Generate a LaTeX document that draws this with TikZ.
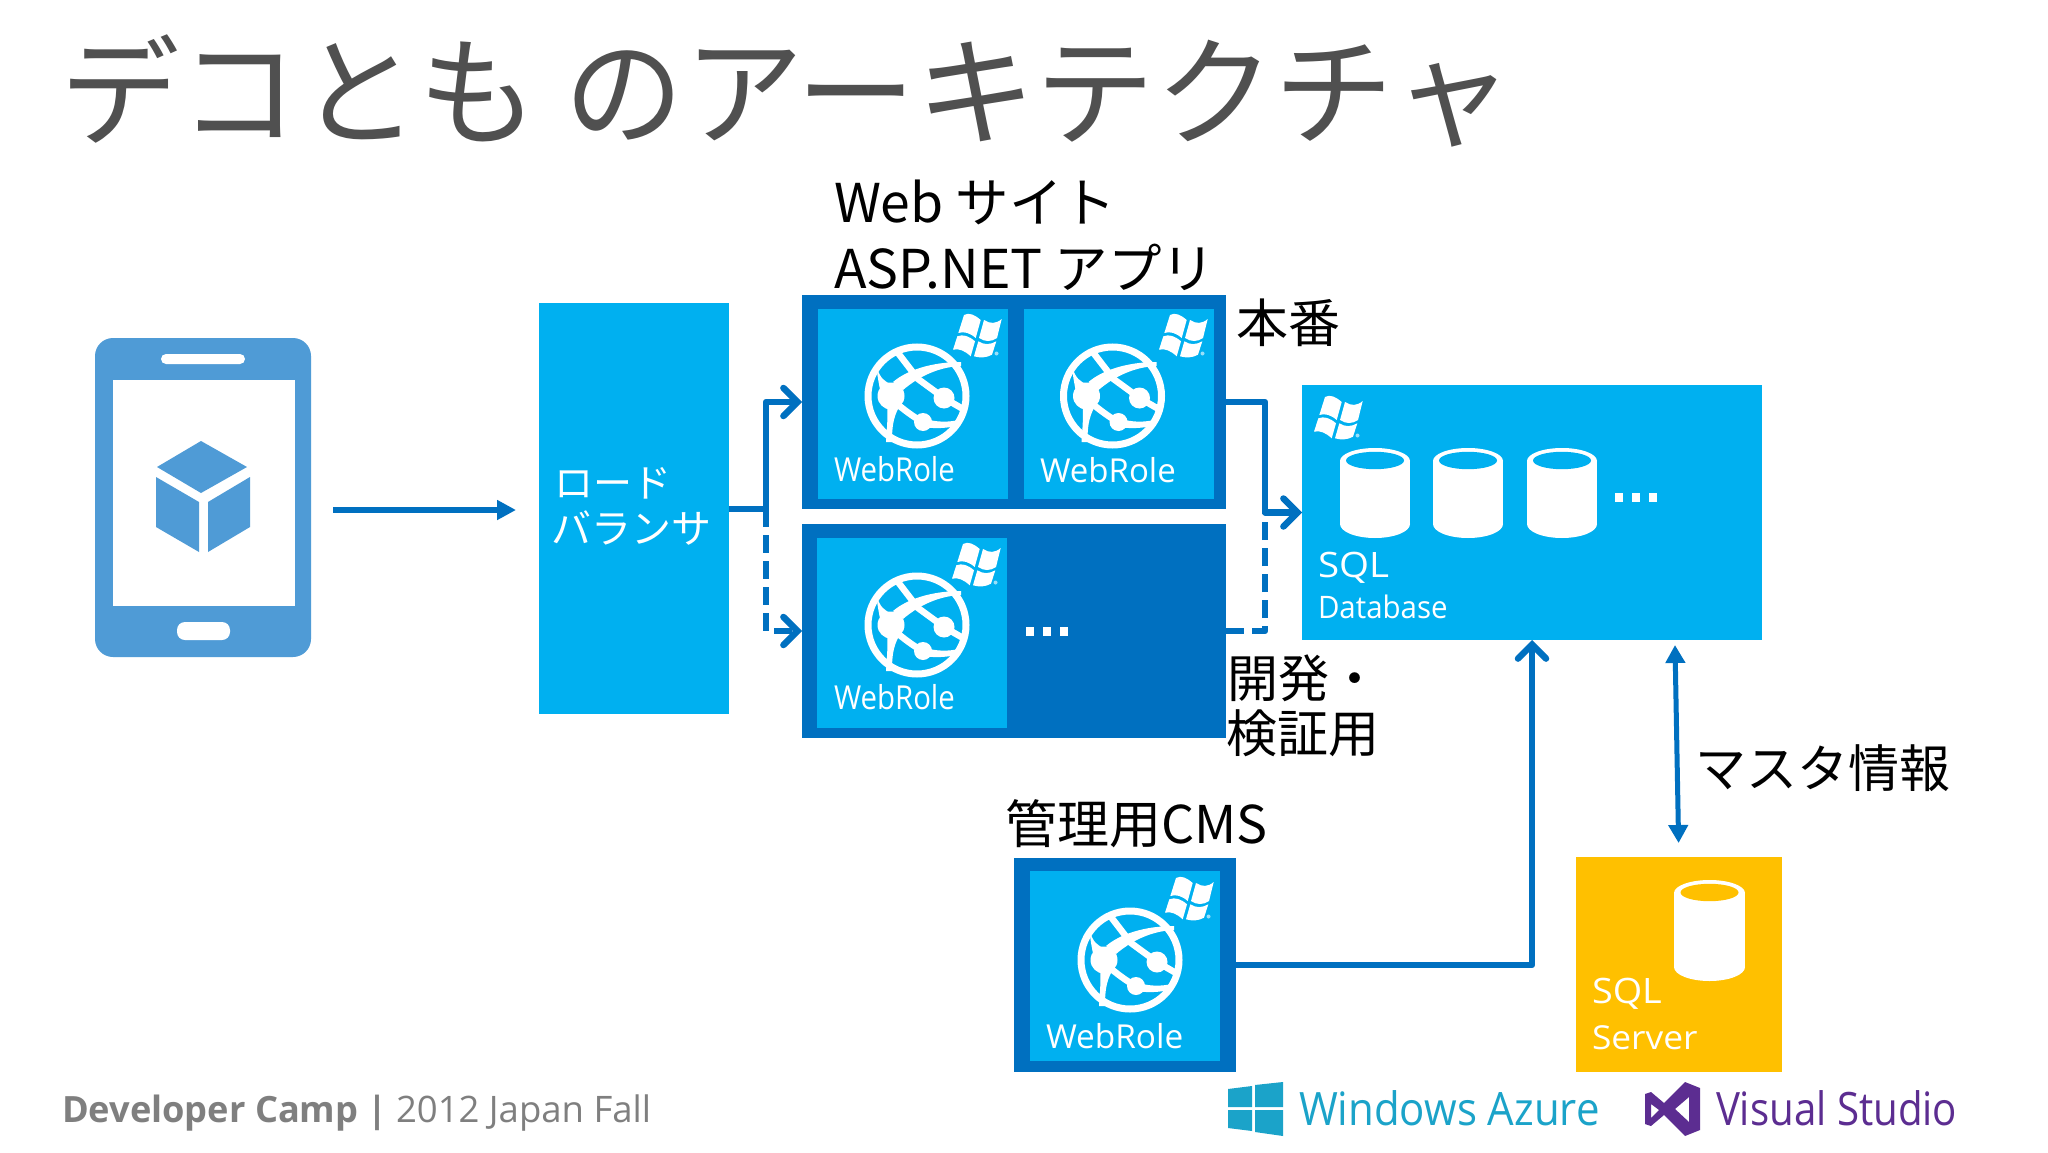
\documentclass[tikz,border=0pt]{standalone}
\usepackage{graphicx}
\usepackage{fontspec}
\setmainfont{Open Sans}
\newfontfamily\jp{Noto Sans CJK JP}
\newfontfamily\os{Open Sans}
\usetikzlibrary{arrows.meta}
\definecolor{frame}{HTML}{0070C0}
\definecolor{tile}{HTML}{00B0F0}
\definecolor{gold}{HTML}{FFC000}
\definecolor{phonec}{HTML}{4F9BD6}
\definecolor{titlec}{HTML}{505050}
\definecolor{foot}{HTML}{7F7F7F}
\definecolor{azure}{HTML}{1BA3C9}
\definecolor{vs}{HTML}{5C2D91}
\newcommand{\fs}[1]{\fontsize{#1}{#1}\selectfont}
\tikzset{
  box/.style={anchor=north west,inner sep=0pt,outer sep=0pt,minimum width=#1},
  lbl/.style={anchor=base west,inner sep=0pt,outer sep=0pt},
  conn/.style={draw=frame,line width=6.5pt,line join=round},
  barb/.style={-{Straight Barb[length=14pt,width=28pt,line width=6.5pt,line cap=round]}},
  dashp/.style={dash pattern=on 18pt off 8pt},
  pics/globe/.style={code={
    \draw[white,line width=7pt] (0,0) ellipse[x radius=49,y radius=49];
    \draw[white,line width=6.5pt] (-19,-43) -- (1,-17) -- (27,2) -- (46,13);
    \fill[white] (-24,-14) .. controls (-10,-26) and (15,-34) .. (44,-34) -- (44,-30) .. controls (20,-29) and (0,-18) .. (-14,-6) -- cycle;
    \fill[white] (-40,-28) .. controls (-37,-18) and (-32,-14) .. (-26,-12) -- (-36,2) .. controls (-37,-10) and (-40,-18) .. (-40,-28) -- cycle;
    \fill[white] (-30,8) -- (-18,11) .. controls (-24,22) and (-25,32) .. (-25,46) -- (-31,46) .. controls (-30,32) and (-29,20) .. (-30,8) -- cycle;
    \draw[white,line width=6.5pt] (-20,8) .. controls (-10,16) and (-2,22) .. (6,26);
    \fill[white] (6,22) .. controls (20,27) and (32,26) .. (42,24) -- (40,30) .. controls (30,32) and (18,33) .. (6,31) -- cycle;
    \fill[white] (-26,0) circle[radius=13.5];
    \fill[white] (27,2) circle[radius=10.5];
    \fill[white] (6,26) circle[radius=9];
  }},
  pics/winflag/.style={code={
    \fill[white] (11,2) .. controls (16,-1) and (22,2) .. (27.7,7) -- (22.7,25) .. controls (17,20) and (11,18) .. (5.3,20) -- cycle;
    \fill[white] (31,7) .. controls (37,11) and (43,11) .. (48.7,6) -- (44,25) .. controls (38,29) and (32,29) .. (26,25) -- cycle;
    \fill[white] (4.3,23.3) .. controls (10,21) and (16,23) .. (22,28.3) -- (17.7,43.3) .. controls (12,38) and (6,35) .. (0,36.7) -- cycle;
    \fill[white] (25.3,28.3) .. controls (31,32) and (37,32) .. (43.3,28.3) -- (39,41.7) .. controls (33,45) and (27,45) .. (21,43.3) -- cycle;
    \fill[white,opacity=.6] (43.5,40.5) circle[radius=2];
  }},
}
\newcommand{\cyl}[6]{% cx, top, rx, height, inner rx, colour
  \fill[white] (#1,#2+13) ellipse[x radius=#3,y radius=13];
  \fill[white] (#1-#3,#2+13) rectangle (#1+#3,#2+#4-14);
  \fill[white] (#1,#2+#4-14) ellipse[x radius=#3,y radius=14];
  \fill[#6] (#1,#2+12.5) ellipse[x radius=#5,y radius=8.7];
}
\newcommand{\dotsq}[2]{\fill[white] (#1,#2) rectangle (#1+8,#2+9);\fill[white] (#1+17,#2) rectangle (#1+25,#2+9);\fill[white] (#1+34,#2) rectangle (#1+42,#2+9);}
\begin{document}
\begin{tikzpicture}[x=1pt,y=-1pt]
\useasboundingbox (0,0) rectangle (2048,1153);
\fill[white] (0,0) rectangle (2048,1153);
% title
\node[lbl,text=titlec,font=\jp\fs{119.5}] (title) at (60,136) {デコとも のアーキテクチャ};
% phone
\node[box=216pt,minimum height=319pt,fill=phonec,rounded corners=18pt] (phone) at (95,338) {};
\node[box=182pt,minimum height=226pt,fill=white] (screen) at (113,380) {};
\node[box=84pt,minimum height=10pt,fill=white,rounded corners=5pt] (speaker) at (161,354) {};
\node[box=53pt,minimum height=18pt,fill=white,rounded corners=8pt] (home) at (177,622) {};
\fill[phonec] (201,441) -- (247,467) -- (201,493) -- (157,467) -- cycle;
\fill[phonec] (156,477) -- (199,502) -- (199,552) -- (156,527) -- cycle;
\fill[phonec] (250,477) -- (208,502) -- (208,552) -- (250,527) -- cycle;
% load balancer
\node[box=190pt,minimum height=411pt,fill=tile] (lb) at (539,303) {};
\node[lbl,text=white,font=\jp\fs{39}] (lb1) at (554,497) {ロード};
\node[lbl,text=white,font=\jp\fs{40}] (lb2) at (551,543) {バランサ};
% frames
\node[box=424pt,minimum height=214pt,fill=frame] (f1) at (802,295) {};
\node[box=424pt,minimum height=214pt,fill=frame] (f2) at (802,524) {};
\node[box=222pt,minimum height=214pt,fill=frame] (f3) at (1014,858) {};
\node[box=190pt,minimum height=190pt,fill=tile] (t1) at (818,309) {};
\node[box=190pt,minimum height=190pt,fill=tile] (t2) at (1024,309) {};
\node[box=190pt,minimum height=190pt,fill=tile] (t3) at (817,538) {};
\node[box=190pt,minimum height=190pt,fill=tile] (t4) at (1030,871) {};
\pic at (917,396) {globe};
\pic at (1112.5,396) {globe};
\pic at (917,625) {globe};
\pic at (1130,960) {globe};
\pic at (953,313) {winflag};
\pic at (1159,313) {winflag};
\pic at (952,542) {winflag};
\pic at (1165,876) {winflag};
\node[lbl,text=white,font=\os\fs{33}] (w1) at (834,481) {\scalebox{.89}[1]{WebRole}};
\node[lbl,text=white,font=\os\fs{33}] (w2) at (1040,482) {\scalebox{1.0}[1]{WebRole}};
\node[lbl,text=white,font=\os\fs{33}] (w3) at (834,709) {\scalebox{.89}[1]{WebRole}};
\node[lbl,text=white,font=\os\fs{33}] (w4) at (1046,1048) {\scalebox{1.01}[1]{WebRole}};
\dotsq{1026}{627}
% database
\node[box=460pt,minimum height=255pt,fill=tile] (db) at (1302,385) {};
\pic at (1314,395) {winflag};
\cyl{1375}{448}{35}{90}{29}{tile}
\cyl{1468}{448}{35}{90}{29}{tile}
\cyl{1562}{448}{35}{90}{29}{tile}
\dotsq{1615}{493}
\node[lbl,text=white,font=\os\fs{35}] (sql1) at (1318,577) {\scalebox{1.1}[1]{SQL}};
\node[lbl,text=white,font=\os\fs{31}] (dbn) at (1318,618) {\scalebox{.95}[1]{Database}};
% SQL Server
\node[box=206pt,minimum height=215pt,fill=gold] (srv) at (1576,857) {};
\cyl{1709.5}{880}{35.5}{101}{29}{gold}
\node[lbl,text=white,font=\os\fs{35}] (sql2) at (1592,1003) {\scalebox{1.08}[1]{SQL}};
\node[lbl,text=white,font=\os\fs{33}] (srvn) at (1592,1049) {\scalebox{1.07}[1]{Server}};
% labels
\node[lbl,font=\jp\fs{53.5}] (web) at (834,222) {Web サイト};
\node[lbl,font=\jp\fs{53.5}] (asp) at (834,288) {ASP.NET アプリ};
\node[lbl,font=\jp\fs{52}] (prod) at (1236,342) {本番};
\node[lbl,font=\jp\fs{51}] (dev1) at (1227,697) {開発・};
\node[lbl,font=\jp\fs{51}] (dev2) at (1226,752) {検証用};
\node[lbl,font=\jp\fs{51}] (master) at (1695,787) {マスタ情報};
\node[lbl,font=\jp\fs{52}] (cms) at (1005,843) {管理用CMS};
% connectors
\coordinate (a1) at (333,510);
\coordinate (a2) at (516,510);
\coordinate (j1) at (766,509);
\coordinate (j2) at (1265,402);
\coordinate (j3) at (1265,631);
\coordinate (m1) at (1675,645);
\coordinate (m2) at (1678.6,843);
\draw[conn,-{Triangle[length=19pt,width=19pt]}] (a1) -- (a2);
\draw[conn] (lb.east |- j1) -- (j1);
\draw[conn,barb] (j1) -- (j1 |- f1.west) -- (f1.west);
\draw[conn,dashp,barb] (j1) -- (j1 |- f2.west) -- (f2.west);
\draw[conn,barb] (f1.east) -- (j2) -- (j2 |- db.west) -- (db.west);
\draw[conn,dashp] (f2.east) -- (j3) -- (j3 |- db.west);
\draw[conn,barb] (f3.east) -- (db.south |- f3.east) -- (db.south);
\draw[conn,line width=5pt,{Triangle[length=18pt,width=19pt]}-{Triangle[length=18pt,width=19pt]}] (m1) -- (m2);
% footer
\node[lbl,text=foot,font=\os\bfseries\fs{36.2}] (ft1) at (62,1122) {Developer Camp |};
\node[lbl,text=foot,font=\os\fs{36.5}] (ft2) at (396,1122) {2012 Japan Fall};
% logos
\fill[azure] (1228,1089) -- (1252,1086) -- (1252,1107) -- (1228,1107) -- cycle;
\fill[azure] (1255,1085) -- (1283,1082) -- (1283,1107) -- (1255,1107) -- cycle;
\fill[azure] (1228,1110) -- (1252,1110) -- (1252,1131) -- (1228,1128) -- cycle;
\fill[azure] (1255,1110) -- (1283,1110) -- (1283,1136) -- (1255,1132) -- cycle;
\node[lbl,text=azure,font=\os\fs{46}] (az) at (1299,1125) {\scalebox{.912}[1]{Windows Azure}};
\fill[vs,even odd rule] (1645,1094) -- (1651,1092) -- (1664,1103) -- (1685,1082) -- (1700,1088) -- (1700,1130) -- (1685,1136) -- (1664,1115) -- (1651,1126) -- (1645,1124) -- cycle
  (1651,1104) -- (1651,1118) -- (1659,1110) -- cycle
  (1689,1097) -- (1675,1109) -- (1689,1122) -- cycle;
\node[lbl,text=vs,font=\os\fs{46}] (vsn) at (1716,1125) {\scalebox{.875}[1]{Visual Studio}};
\end{tikzpicture}
\end{document}
